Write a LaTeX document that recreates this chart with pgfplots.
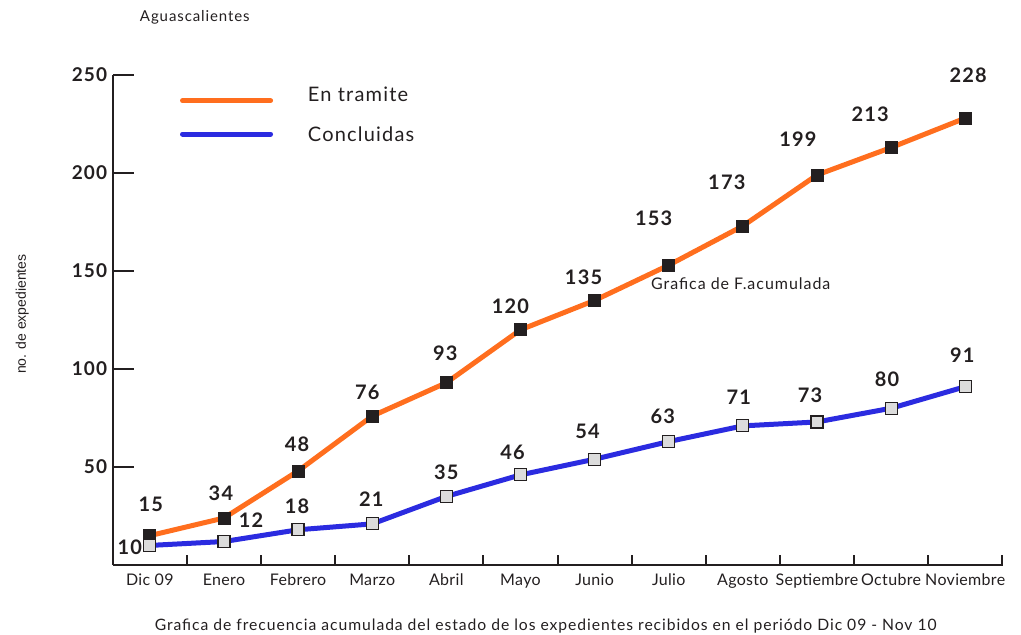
\documentclass[border=0pt]{standalone}
\usepackage{fontspec}
\setmainfont{Lato}[LetterSpace=6]
\newfontfamily\arialfont{Liberation Sans}
\newfontfamily\tickfont{Lato}[LetterSpace=2]
\usepackage{pgfplots}
\pgfplotsset{compat=1.18}
\definecolor{ora}{RGB}{255,110,30}
\definecolor{blu}{RGB}{43,43,224}
\definecolor{txt}{RGB}{35,31,32}
\definecolor{mk}{RGB}{220,220,220}
\tikzset{dlab/.style={font=\fontsize{10}{12}\selectfont\bfseries, text=txt, inner sep=0pt}}
% label placed relative to a data point (shifts in pt)
\newcommand{\lbl}[5]{\node[dlab] at (axis cs:#1,#2) [xshift=#3pt, yshift=#4pt] {#5};}
\begin{document}
\begin{tikzpicture}
\begin{axis}[
    scale only axis, width=444.75pt, height=245pt,
    xmin=-0.49, xmax=11.51, ymin=0, ymax=250,
    axis x line=bottom, axis y line=left,
    axis line style={-, line width=1pt, txt},
    xtick={0,...,11},
    xticklabels={Dic 09,Enero,Febrero,Marzo,Abril,Mayo,Junio,Julio,Agosto,Septiembre,Octubre,Noviembre},
    minor xtick={0.5,1.5,...,11.5},
    ytick={50,100,150,200,250},
    tick align=inside,
    major tick length=10pt, minor tick length=5pt,
    major x tick style={draw=none},
    tick style={line width=1pt, txt},
    /pgf/number format/assume math mode=true,
    xticklabel style={font=\tickfont\fontsize{8}{9}\selectfont, text=txt, anchor=base, inner sep=0pt, yshift=-10pt},
    yticklabel style={font=\fontsize{9.5}{11}\selectfont\bfseries, text=txt, anchor=east, inner sep=0pt, xshift=-3pt},
    clip=false,
]
% bounding box of the whole picture
\path (rel axis cs:-0.1276,-0.1408) rectangle (rel axis cs:1.0202,1.1531);

\addplot[ora, line width=2.5pt, mark=square*, mark size=3pt,
    mark options={fill=txt, draw=txt, line width=0.4pt}] coordinates {
    (0,15) (1,24) (2,48) (3,76) (4,93) (5,120) (6,135) (7,153) (8,173) (9,199) (10,213) (11,228)
};
\addplot[blu, line width=2.5pt, mark=square*, mark size=3pt,
    mark options={fill=mk, draw=txt, line width=0.6pt}] coordinates {
    (0,10) (1,12) (2,18) (3,21) (4,35) (5,46) (6,54) (7,63) (8,71) (9,73) (10,80) (11,91)
};

% data labels, En tramite
\lbl{0}{15}{0.5}{15.5}{15}
\lbl{1}{24}{-1.5}{12.5}{34}
\lbl{2}{48}{-0.5}{13.5}{48}
\lbl{3}{76}{-2.5}{12}{76}
\lbl{4}{93}{-0.5}{14.5}{93}
\lbl{5}{120}{-5}{12}{120}
\lbl{6}{135}{-5.5}{11.5}{135}
\lbl{7}{153}{-7.5}{23.5}{153}
\lbl{8}{173}{-8}{22}{173}
\lbl{9}{199}{-9.5}{18}{199}
\lbl{10}{213}{-10.5}{16.5}{213}
\lbl{11}{228}{1.5}{21.5}{228}
% data labels, Concluidas
\lbl{0}{10}{-10}{-1}{10}
\lbl{1}{12}{13.5}{10.5}{12}
\lbl{2}{18}{-0.5}{11.5}{18}
\lbl{3}{21}{-0.5}{12.5}{21}
\lbl{4}{35}{0}{12}{35}
\lbl{5}{46}{-4}{11.5}{46}
\lbl{6}{54}{-3.5}{14}{54}
\lbl{7}{63}{-3}{12.5}{63}
\lbl{8}{71}{-2}{14.3}{71}
\lbl{9}{73}{-3.5}{13.5}{73}
\lbl{10}{80}{-2}{14.5}{80}
\lbl{11}{91}{-1.5}{15.5}{91}

% legend
\draw[ora, line width=2.5pt, line cap=round] (axis cs:0.441,236.9) -- (axis cs:1.629,236.9);
\draw[blu, line width=2.5pt, line cap=round] (axis cs:0.441,219.9) -- (axis cs:1.629,219.9);
\node[anchor=base west, inner sep=0pt, text=txt, font=\fontsize{10}{12}\selectfont] at (axis cs:2.127,236.7) {En tramite};
\node[anchor=base west, inner sep=0pt, text=txt, font=\fontsize{10}{12}\selectfont] at (axis cs:2.127,216.0) {Concluidas};

% texts
\node[anchor=base west, inner sep=0pt, text=txt, font=\fontsize{8}{9}\selectfont] at (axis cs:6.757,140.8) {Grafica de F.acumulada};
\node[anchor=base, inner sep=0pt, text=txt, font=\fontsize{7.5}{9}\selectfont] at (axis cs:0.607,277.5) {Aguascalientes};
\node[anchor=base, inner sep=0pt, text=txt, font=\fontsize{7.85}{9}\selectfont] at (axis cs:5.34,-33.5) {Grafica de frecuencia acumulada del estado de los expedientes recibidos en el periódo Dic 09 - Nov 10};
\node[rotate=90, inner sep=0pt, text=txt, font=\arialfont\fontsize{7}{8}\selectfont] at (axis cs:-1.72,128) {no. de expedientes};
\end{axis}
\end{tikzpicture}
\end{document}
